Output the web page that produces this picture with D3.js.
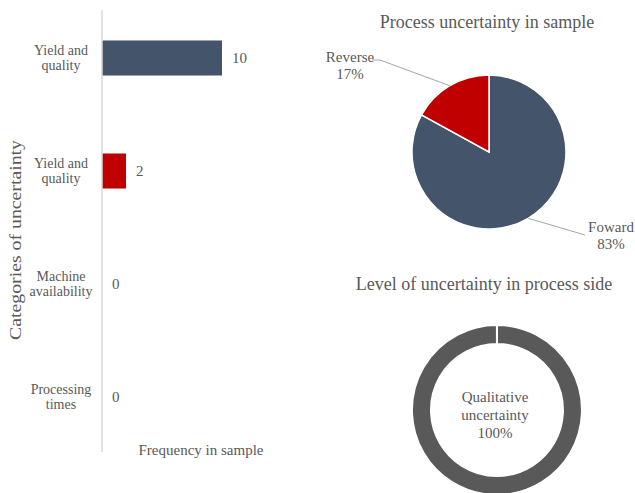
<!DOCTYPE html>
<html>
<head>
<meta charset="utf-8">
<script src="https://cdn.jsdelivr.net/npm/d3@7"></script>
<style>
  body { margin: 0; background: #fff; }
  svg text { font-family: "Liberation Serif", "Times New Roman", serif; fill: #595959; }
</style>
</head>
<body>
<div id="plot"></div>
<script>
/* bar chart data */
var categories = ['Yield and|quality', 'Yield and|quality', 'Machine|availability', 'Processing|times'];
var frequency = [10, 2, 0, 0];
var barColors = ['#44546a', '#c00000', '#44546a', '#44546a'];

/* pie data */
var directions = ['Foward', 'Reverse'];
var directionShare = [83, 17];
var pieColors = ['#44546a', '#c00000'];

/* doughnut data */
var levels = ['Qualitative uncertainty'];
var levelShare = [100];

var W = 635, H = 493;

var svg = d3.select('#plot')
  .append('svg')
  .attr('width', W)
  .attr('height', H);

/* ---------- bar chart ---------- */
var bars = svg.append('g').attr('class', 'bars');

var y = d3.scaleBand()
  .domain(d3.range(categories.length))
  .range([1.5, 453.5])
  .paddingInner(0.69)
  .paddingOuter(0.345);

var x = d3.scaleLinear()
  .domain([0, 10])
  .range([102, 222]);

bars.selectAll('.bar')
  .data(frequency)
  .enter()
  .append('rect')
  .attr('class', 'bar')
  .attr('x', x(0))
  .attr('y', function (d, i) { return y(i); })
  .attr('width', function (d) { return x(d) - x(0); })
  .attr('height', y.bandwidth())
  .style('fill', function (d, i) { return barColors[i]; });

bars.append('line')
  .attr('x1', x(0)).attr('x2', x(0))
  .attr('y1', 10).attr('y2', 452)
  .style('stroke', '#d9d9d9')
  .style('stroke-width', 1.5);

bars.selectAll('.value')
  .data(frequency)
  .enter()
  .append('text')
  .attr('class', 'value')
  .attr('x', function (d) { return x(d) + 10; })
  .attr('y', function (d, i) { return y(i) + y.bandwidth() / 2 + 5; })
  .style('font-size', '15px')
  .text(function (d) { return d; });

var catLabels = bars.selectAll('.cat')
  .data(categories)
  .enter()
  .append('text')
  .attr('class', 'cat')
  .attr('text-anchor', 'middle')
  .style('font-size', '14px');

catLabels.each(function (d, i) {
  var cy = y(i) + y.bandwidth() / 2;
  d3.select(this).selectAll('tspan')
    .data(d.split('|'))
    .enter()
    .append('tspan')
    .attr('x', 61)
    .attr('y', function (t, j) { return cy - 3 + j * 15; })
    .text(function (t) { return t; });
});

bars.append('text')
  .attr('transform', 'translate(21,240) rotate(-90)')
  .attr('text-anchor', 'middle')
  .attr('textLength', 200)
  .attr('lengthAdjust', 'spacingAndGlyphs')
  .style('font-size', '16px')
  .text('Categories of uncertainty');

bars.append('text')
  .attr('x', 201)
  .attr('y', 455)
  .attr('text-anchor', 'middle')
  .style('font-size', '15px')
  .text('Frequency in sample');

/* ---------- pie ---------- */
var pieR = 77;
var pieG = svg.append('g')
  .attr('transform', 'translate(489,152)');

svg.append('text')
  .attr('x', 487)
  .attr('y', 28)
  .attr('text-anchor', 'middle')
  .style('font-size', '18px')
  .text('Process uncertainty in sample');

var pie = d3.pie().sort(null);
var pieArcs = pie(directionShare);
var arc = d3.arc().innerRadius(0).outerRadius(pieR);
var edge = d3.arc().innerRadius(pieR).outerRadius(pieR);

pieG.selectAll('.slice')
  .data(pieArcs)
  .enter()
  .append('path')
  .attr('class', 'slice')
  .attr('d', arc)
  .style('fill', function (d, i) { return pieColors[i]; })
  .style('stroke', '#fff')
  .style('stroke-width', 1.5);

// leader lines and labels, relative to the pie centre
var labelPos = [[122, 80], [-139, -90]];
var linePts = [
  function (p) { return [p, [96, 83]]; },
  function (p) { return [p, [-109, -92], [-117, -92]]; }
];

pieG.selectAll('.leader')
  .data(pieArcs)
  .enter()
  .append('path')
  .attr('class', 'leader')
  .attr('d', function (d, i) { return d3.line()(linePts[i](edge.centroid(d))); })
  .style('fill', 'none')
  .style('stroke', '#a6a6a6')
  .style('stroke-width', 1);

pieG.selectAll('.plabel')
  .data(pieArcs)
  .enter()
  .append('text')
  .attr('class', 'plabel')
  .attr('text-anchor', 'middle')
  .style('font-size', '15px')
  .each(function (d, i) {
    var t = d3.select(this);
    t.append('tspan').attr('x', labelPos[i][0]).attr('y', labelPos[i][1]).text(directions[i]);
    t.append('tspan').attr('x', labelPos[i][0]).attr('y', labelPos[i][1] + 17).text(d.data + '%');
  });

/* ---------- doughnut ---------- */
svg.append('text')
  .attr('x', 484)
  .attr('y', 290)
  .attr('text-anchor', 'middle')
  .style('font-size', '18px')
  .text('Level of uncertainty in process side');

var donutG = svg.append('g')
  .attr('transform', 'translate(497,410)');

var donutPie = d3.pie().sort(null).endAngle(2 * Math.PI - 0.001);
var ring = d3.arc().innerRadius(66).outerRadius(85);

donutG.selectAll('.ring')
  .data(donutPie(levelShare))
  .enter()
  .append('path')
  .attr('class', 'ring')
  .attr('d', ring)
  .style('fill', '#595959')
  .style('stroke', '#fff')
  .style('stroke-width', 2);

var centreText = donutG.append('text')
  .attr('text-anchor', 'middle')
  .style('font-size', '15px');

levels[0].split(' ').concat([levelShare[0] + '%']).forEach(function (t, j) {
  centreText.append('tspan')
    .attr('x', -2)
    .attr('y', -8 + j * 18)
    .text(t);
});
</script>
</body>
</html>
